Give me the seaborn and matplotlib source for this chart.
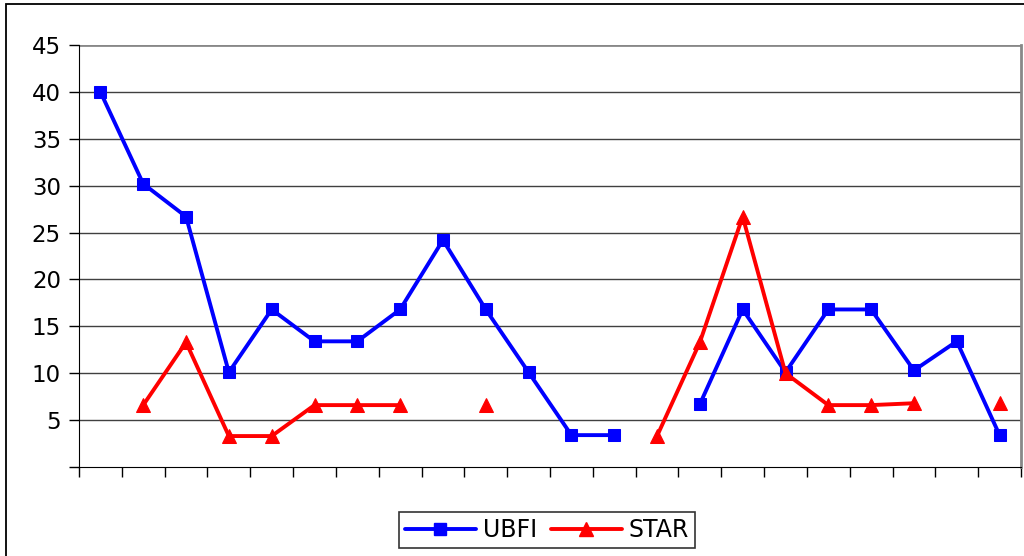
import numpy as np
import pandas as pd
import matplotlib
matplotlib.use("Agg")
import matplotlib.pyplot as plt
from matplotlib.patches import Rectangle
import seaborn as sns

sns.set_style("white")
plt.rcParams['font.family'] = ['DejaVu Sans']
plt.rcParams['text.color'] = 'black'
plt.rcParams['xtick.color'] = 'black'
plt.rcParams['ytick.color'] = 'black'

# data (NaN = no point)
positions = list(range(22))
ubfi = [40.0, 30.2, 26.7, 10.1, 16.8, 13.4, 13.4, 16.8, 24.2, 16.8, 10.1,
        3.4, 3.4, np.nan, 6.7, 16.8, 10.1, 16.8, 16.8, 10.3, 13.4, 3.4]
star = [np.nan, 6.6, 13.3, 3.3, 3.3, 6.6, 6.6, 6.6, np.nan, 6.6, np.nan,
        np.nan, np.nan, 3.3, 13.3, 26.7, 10.0, 6.6, 6.6, 6.8, np.nan, 6.8]
y_ticks = [0, 5, 10, 15, 20, 25, 30, 35, 40, 45]
y_labels = ["", "5", "10", "15", "20", "25", "30", "35", "40", "45"]


def segments(vals):
    # break the line where values are missing
    seg, s, prev = [], 0, False
    for v in vals:
        ok = not np.isnan(v)
        if ok and not prev:
            s += 1
        seg.append(s if ok else -1)
        prev = ok
    return seg


df = pd.DataFrame({"pos": positions, "UBFI": ubfi, "STAR": star})

fig = plt.figure(figsize=(10.24, 5.56), dpi=100)
ax = fig.add_axes([79 / 1024, 1 - 467 / 556, (1021 - 79) / 1024, (467 - 45) / 556])

styles = {"UBFI": ("#0000ff", "s", 9), "STAR": ("#ff0000", "^", 10)}
for name in ["UBFI", "STAR"]:
    color, marker, ms = styles[name]
    sub = df[["pos", name]].copy()
    sub["seg"] = segments(sub[name].tolist())
    sub = sub[sub["seg"] > 0]
    sns.lineplot(data=sub, x="pos", y=name, units="seg", estimator=None,
                 color=color, marker=marker, markersize=ms, markeredgecolor=color,
                 linewidth=2.8, ax=ax, legend=False)

ax.set_xlim(-0.5, 21.5)
ax.set_ylim(0, 45)
ax.set_yticks(y_ticks)
ax.set_yticklabels(y_labels, fontsize=16.5, color="black")
ax.set_xticks(np.arange(-0.5, 22, 1))
ax.set_xticklabels([])
ax.tick_params(axis="both", direction="out", length=7, width=1, color="black",
               bottom=True, left=True)
ax.tick_params(axis="y", pad=6)
ax.set_xlabel("")
ax.set_ylabel("")
for v in y_ticks[1:-1]:
    ax.axhline(v, color="#404040", linewidth=1, zorder=0)
ax.axhline(45, color="#888888", linewidth=2, zorder=0)
ax.spines["left"].set_color("black")
ax.spines["bottom"].set_color("black")
ax.spines["top"].set_visible(False)
ax.spines["right"].set_color("#888888")
ax.spines["right"].set_linewidth(2)

handles = [plt.Line2D([], [], color="#0000ff", marker="s", markersize=9, linewidth=2.8),
           plt.Line2D([], [], color="#ff0000", marker="^", markersize=10, linewidth=2.8)]
leg = fig.legend(handles, ["UBFI", "STAR"], loc="center", bbox_to_anchor=(547 / 1024, 1 - 530 / 556),
                 ncol=2, fontsize=17, frameon=True, fancybox=False, edgecolor="black",
                 handlelength=3.0, columnspacing=0.6, handletextpad=0.3, borderpad=0.25)
leg.get_frame().set_linewidth(1.2)

fig.add_artist(Rectangle((6 / 1024, -0.05), 1.1, 1 - 4 / 556 + 0.05, transform=fig.transFigure,
                         fill=False, edgecolor="black", linewidth=1.3))

fig.savefig("out.png", dpi=100)
